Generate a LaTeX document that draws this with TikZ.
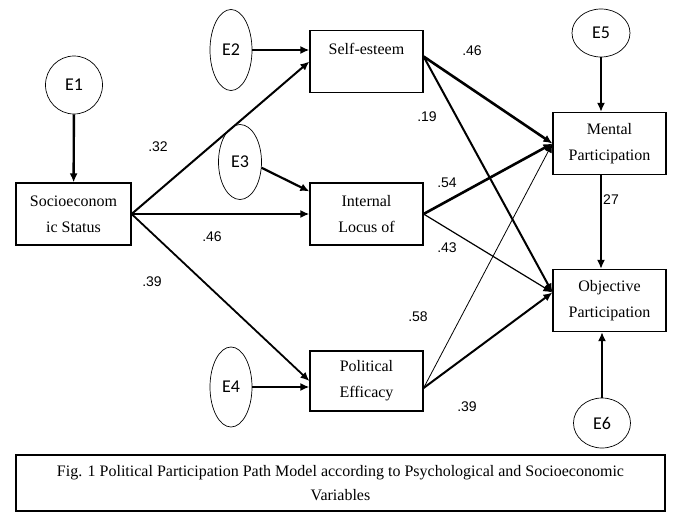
\documentclass[tikz,border=0pt]{standalone}
\usepackage{fontspec}
\setmainfont{Liberation Serif}
\newfontfamily\numfont{Liberation Sans}
\newfontfamily\errfont{Carlito}
\usetikzlibrary{arrows.meta,shapes.geometric}

\begin{document}
\begin{tikzpicture}[x=1pt,y=-1pt,
	var/.style={draw,line width=1.2pt,minimum width=113pt,minimum height=62pt,inner sep=0pt,align=center,font=\fontsize{16}{26}\selectfont},
	err/.style={draw,ellipse,line width=0.7pt,inner sep=0pt,font=\errfont\fontsize{18}{18}\selectfont},
	coef/.style={font=\numfont\fontsize{14}{14}\selectfont},
	path/.style={-{Latex[length=9pt,width=8pt]}}]
	\useasboundingbox (0,0) rectangle (673,514);
	% variables
	\node[var,minimum width=115pt] (socio) at (73.5,214) {Socioeconom\\ic Status};
	\node[var] (self) at (366.5,61.5) {Self-esteem\\[0pt]~};
	\node[var] (internal) at (366.5,214) {Internal\\Locus of};
	\node[var,minimum height=60pt] (political) at (366.5,381) {Political\\Efficacy};
	\node[var] (mental) at (609.5,143.5) {Mental\\Participation};
	\node[var] (objective) at (609.5,300.5) {Objective\\Participation};
	% error terms
	\node[err,minimum width=57pt,minimum height=58pt] (e1) at (74,85) {E1};
	\node[err,minimum width=42pt,minimum height=81pt] (e2) at (231,50) {E2};
	\node[err,minimum width=43pt,minimum height=75pt] (e3) at (240,162) {E3};
	\node[err,minimum width=42pt,minimum height=80pt] (e4) at (231,387) {E4};
	\node[err,minimum width=58pt,minimum height=48pt] (e5) at (601,33) {E5};
	\node[err,minimum width=57pt,minimum height=50pt] (e6) at (602,423) {E6};
	% paths
	\draw[path,line width=2.4pt] (e1) -- (socio);
	\draw[path,line width=2.4pt] (e2) -- (e2 -| self.west);
	\draw[path,line width=2.2pt] (e3.-15) -- ([yshift=-9pt]internal.north west);
	\draw[path,line width=2.4pt] (e4) -- (e4 -| political.west);
	\draw[path,line width=2.4pt] (e5) -- (e5 |- mental.north);
	\draw[path,line width=2.4pt] (e6) -- (e6 |- objective.south);
	\draw[path,line width=2pt] (socio.east) -- (self.west);
	\draw[path,line width=2.2pt] (socio.east) -- (internal.west);
	\draw[path,line width=1.8pt] (socio.east) -- (political.west);
	\draw[path,line width=2.6pt] ([yshift=5pt]self.east) -- (mental.west);
	\draw[path,line width=2pt] ([yshift=5pt]self.east) -- ([yshift=8pt]objective.west);
	\draw[path,line width=2.6pt] (internal.east) -- (mental.west);
	\draw[path,line width=1.2pt] (internal.east) -- ([yshift=8pt]objective.west);
	\draw[path,line width=0.8pt] ([yshift=-7pt]political.east) -- (mental.west);
	\draw[path,line width=2pt] ([yshift=-7pt]political.east) -- ([yshift=8pt]objective.west);
	\draw[path,line width=2.4pt] (e5 |- mental.south) -- (e5 |- objective.north);
	% coefficients
	\node[coef] (c1) at (158,147) {.32};
	\node[coef] (c2) at (212,237) {.46};
	\node[coef] (c3) at (152,282) {.39};
	\node[coef] (c4) at (472,51) {.46};
	\node[coef] (c5) at (427,117) {.19};
	\node[coef] (c6) at (447,183) {.54};
	\node[coef] (c7) at (447,248) {.43};
	\node[coef] (c8) at (418,317) {.58};
	\node[coef] (c9) at (467,407) {.39};
	\node[coef] (c10) at (611,200) {27};
	% caption
	\node[draw,line width=1.2pt,minimum width=649pt,minimum height=56pt,inner sep=0pt,align=center,font=\fontsize{16}{24}\selectfont] (caption) at (340.5,483) {Fig. 1 Political Participation Path Model according to Psychological and Socioeconomic\\Variables};
\end{tikzpicture}
\end{document}
